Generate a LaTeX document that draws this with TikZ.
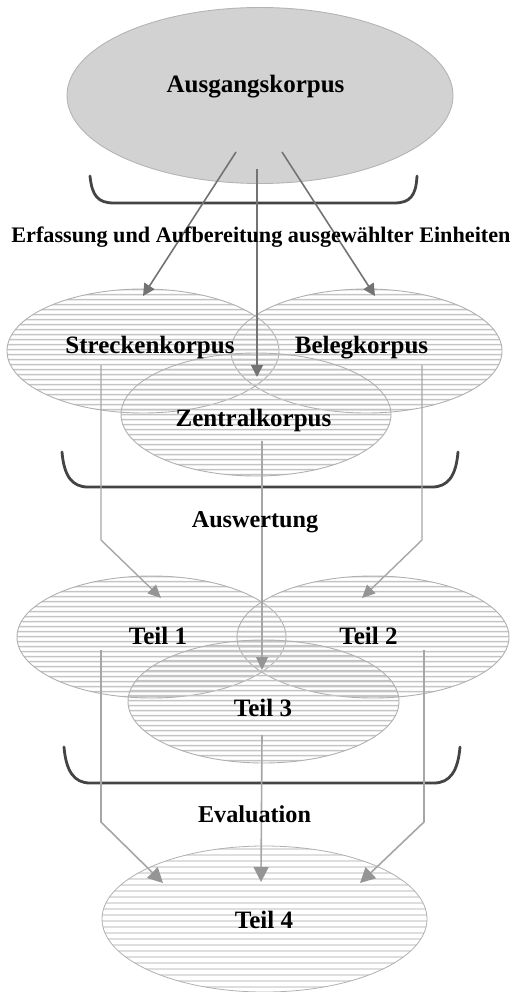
\documentclass[tikz,border=0pt]{standalone}
\usepackage{fontspec}
\setmainfont{Liberation Serif}
\usetikzlibrary{shapes.geometric,arrows.meta,patterns.meta}
\definecolor{topfill}{HTML}{D2D2D2}
\definecolor{topline}{HTML}{B4B4B4}
\definecolor{ringline}{HTML}{B0B0B0}
\definecolor{stripe}{HTML}{C4C4C4}
\definecolor{stripelight}{HTML}{DEDEDE}
\definecolor{darkarrow}{HTML}{737373}
\definecolor{lightarrow}{HTML}{A6A6A6}
\definecolor{tipgray}{HTML}{959595}
\definecolor{bracegray}{HTML}{444444}
\begin{document}
\begin{tikzpicture}[x=1pt,y=-1pt,
  lbl/.style={font=\fontsize{25}{29}\selectfont\bfseries, anchor=base, inner sep=0pt},
  midlbl/.style={font=\fontsize{24.2}{28}\selectfont\bfseries, anchor=base, inner sep=0pt},
  sublbl/.style={font=\fontsize{22.2}{26}\selectfont\bfseries, anchor=base, inner sep=0pt},
  topell/.style={ellipse, draw=topline, line width=0.9pt, fill=topfill, inner sep=0pt},
  ring/.style={ellipse, draw=ringline, line width=0.9pt, inner sep=0pt,
    pattern={Lines[angle=0,distance=5.4pt,line width=1.7pt]}, pattern color=stripe},
  ringlight/.style={ellipse, draw=ringline, line width=0.8pt, inner sep=0pt,
    pattern={Lines[angle=0,distance=6.4pt,line width=1.8pt]}, pattern color=stripelight},
  darr/.style={draw=darkarrow, line width=1.6pt, -{Triangle[length=12pt,width=12pt]}},
  larr/.style={draw=lightarrow, line width=1.4pt, -{Triangle[length=13pt,width=12pt,color=tipgray,fill=tipgray]}},
  barr/.style={draw=lightarrow, line width=1.6pt, -{Triangle[length=15pt,width=15pt,color=tipgray,fill=tipgray]}},
  klammer/.style={draw=bracegray, line width=2.8pt, line cap=round, line join=round}
]
\useasboundingbox (0,0) rectangle (512,992);

% ellipses
\node[topell, minimum width=386pt, minimum height=176pt] (aus) at (260,95.5) {};

\node[ring, minimum width=272pt, minimum height=124pt] (strecke) at (143,351) {};
\node[ring, minimum width=271pt, minimum height=124pt] (beleg) at (366.5,351) {};
\node[ring, minimum width=270pt, minimum height=123pt] (zentral) at (256,414.5) {};

\node[ring, minimum width=269pt, minimum height=122pt] (teilA) at (151.5,637) {};
\node[ring, minimum width=272pt, minimum height=122pt] (teilB) at (373,637) {};
\node[ring, minimum width=271pt, minimum height=123pt] (teilC) at (263.5,701.5) {};

\node[ringlight, minimum width=325pt, minimum height=146pt] (teilD) at (264.5,919) {};

% braces
\draw[klammer] (90,176) .. controls (92,196) and (98,203) .. (114,203) -- (394,203) .. controls (410,203) and (416,196) .. (417,176);
\draw[klammer] (62,452) .. controls (64,476) and (72,487) .. (88,487) -- (432,487) .. controls (448,487) and (456,476) .. (458,452);
\draw[klammer] (64,747) .. controls (66,771) and (74,783) .. (90,783) -- (434,783) .. controls (450,783) and (458,771) .. (460,747);

% connector end points
\coordinate (a1) at (236,152);
\coordinate (a2) at (257,169);
\coordinate (a3) at (282,152);
\coordinate (s1) at (143,296);
\coordinate (z1) at (257,377);
\coordinate (b1) at (375,296);

\coordinate (s2) at (101,365);
\coordinate (s2k) at (101,540);
\coordinate (z2) at (262,441);
\coordinate (b2) at (422,365);
\coordinate (b2k) at (422,540);
\coordinate (t1in) at (161,598);
\coordinate (t3in) at (262,670);
\coordinate (t2in) at (362,598);

\coordinate (t1out) at (101,650);
\coordinate (t1k) at (101,822);
\coordinate (t3out) at (262,735);
\coordinate (t2out) at (424,650);
\coordinate (t2k) at (424,822);
\coordinate (d1) at (163,883);
\coordinate (d2) at (261,882);
\coordinate (d3) at (360,883);

% arrows
\draw[darr] (a1) -- (s1);
\draw[darr] (a2) -- (z1);
\draw[darr] (a3) -- (b1);

\draw[larr] (s2) -- (s2k) -- (t1in);
\draw[larr] (z2) -- (t3in);
\draw[larr] (b2) -- (b2k) -- (t2in);

\draw[barr] (t1out) -- (t1k) -- (d1);
\draw[barr] (t3out) -- (d2);
\draw[barr] (t2out) -- (t2k) -- (d3);

% labels
\node[lbl] (ausT) at (255.5,93) {Ausgangskorpus};
\node[sublbl] (erf) at (261,242) {Erfassung und Aufbereitung ausgewählter Einheiten};
\node[lbl] (strT) at (150,353) {Streckenkorpus};
\node[lbl] (belT) at (361.5,353) {Belegkorpus};
\node[lbl] (zenT) at (253.5,426) {Zentralkorpus};
\node[midlbl] (ausw) at (255,527) {Auswertung};
\node[lbl] (t1T) at (158,644) {Teil 1};
\node[lbl] (t2T) at (368.5,644) {Teil 2};
\node[lbl] (t3T) at (263,716) {Teil 3};
\node[midlbl] (eval) at (254.5,822) {Evaluation};
\node[lbl] (t4T) at (264,928) {Teil 4};
\end{tikzpicture}
\end{document}
